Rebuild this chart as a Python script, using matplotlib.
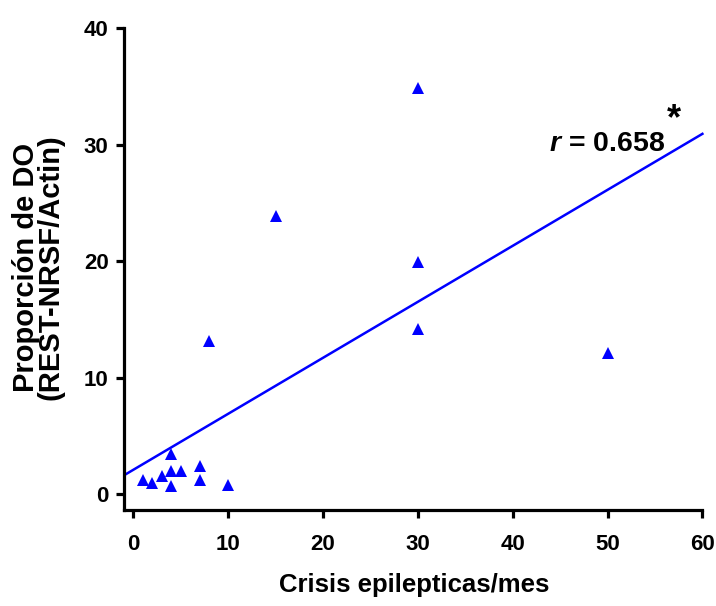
import numpy as np
import matplotlib
matplotlib.use("Agg")
import matplotlib.pyplot as plt

plt.rcParams['font.family'] = ['Liberation Sans', 'DejaVu Sans']
plt.rcParams['mathtext.fontset'] = 'custom'
plt.rcParams['mathtext.it'] = 'Liberation Sans:italic:bold'
plt.rcParams['mathtext.rm'] = 'Liberation Sans:bold'

# Data
crisis = [1, 2, 3, 4, 4, 4, 5, 7, 7, 10, 8, 15, 30, 30, 30, 50]
proporcion = [1.2, 0.95, 1.5, 3.4, 2.0, 0.7, 2.0, 2.4, 1.2, 0.8,
              13.1, 23.9, 34.9, 19.9, 14.2, 12.1]
x_ticks = [0, 10, 20, 30, 40, 50, 60]
y_ticks = [0, 10, 20, 30, 40]
r_text = "0.658"

fig = plt.figure(figsize=(7.16, 6.06), dpi=100)
ax = fig.add_axes([0.173, 0.158, 0.812, 0.801])

x = np.array(crisis, dtype=float)
y = np.array(proporcion, dtype=float)
slope, intercept = np.polyfit(x, y, 1)
xl = np.array([-1.0, 60.0])
ax.plot(xl, intercept + slope * xl, color='#0000ff', lw=1.8, zorder=2)
ax.plot(x, y, linestyle='none', marker='^', ms=9, color='#0000ff',
        markeredgewidth=0, zorder=3)

ax.set_xlim(-1.0, 60.3)
ax.set_ylim(-1.4, 40.3)
ax.set_xticks(x_ticks)
ax.set_yticks(y_ticks)
for s in ['top', 'right']:
    ax.spines[s].set_visible(False)
for s in ['left', 'bottom']:
    ax.spines[s].set_linewidth(2.3)
ax.spines['bottom'].set_bounds(-1.0, 60)
ax.spines['left'].set_bounds(-1.4, 40)
ax.tick_params(axis='both', width=2.3, length=6, labelsize=16, pad=5)
for lab in ax.get_xticklabels() + ax.get_yticklabels():
    lab.set_fontweight('bold')
ax.tick_params(axis='x', pad=11)

ax.set_xlabel('Crisis epilepticas/mes', fontsize=18.5, fontweight='bold', labelpad=13)
ax.set_ylabel('Proporción de DO\n(REST-NRSF/Actin)', fontsize=21,
              fontweight='bold', labelpad=14, linespacing=0.85)

ax.text(56.1, 29.5, '$r$ = ' + r_text, fontsize=20.5, fontweight='bold',
        ha='right', va='baseline')
ax.text(57.0, 31.3, '*', fontsize=26, fontweight='bold', ha='center',
        va='baseline')

fig.savefig('out.png', dpi=100)
